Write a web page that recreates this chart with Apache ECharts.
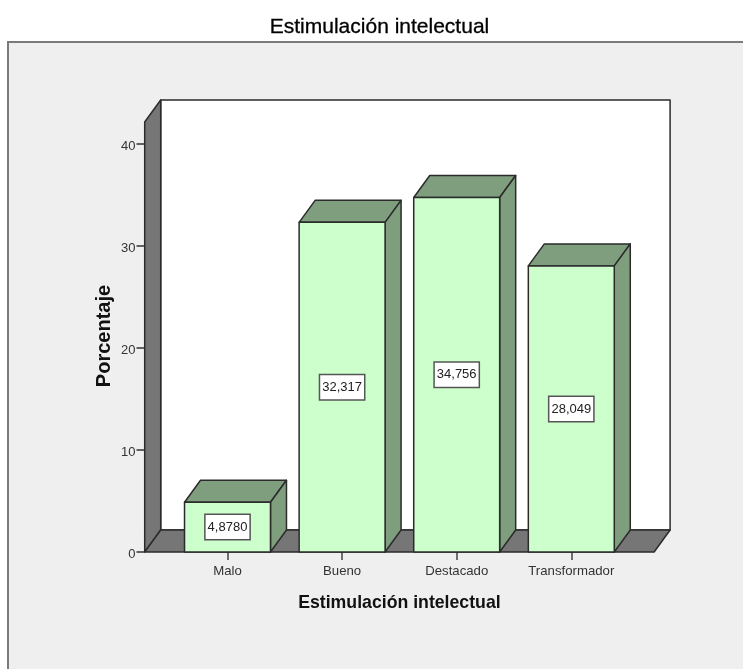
<!DOCTYPE html>
<html lang="es">
<head>
	<meta charset="UTF-8">
	<title>Estimulación intelectual</title>
	<style>
		html, body { margin: 0; padding: 0; background: #fff; }
	</style>
</head>
<body>
	<div id="main" style="width: 743px;height: 669px"></div>

	<script src="https://cdn.jsdelivr.net/npm/echarts@6/dist/echarts.min.js"></script>
	<script type="text/javascript">
	var categories = ['Malo', 'Bueno', 'Destacado', 'Transformador'];
	var percentages = [4.878, 32.317, 34.756, 28.049];
	var valueLabels = ['4,8780', '32,317', '34,756', '28,049'];
	var yTicks = [0, 10, 20, 30, 40];

	var font = '"Liberation Sans", Arial, sans-serif';
	var lineColor = '#2b2b2b';
	var depthX = 16, depthY = 22;   // desplazamiento del efecto 3D
	var wallPad = 25.5;             // el suelo sobresale de la banda de categorias

	var myChart = echarts.init(document.getElementById('main'));

	function poly(points, fill) {
		return {
			type: 'polygon',
			shape: { points: points },
			style: { fill: fill, stroke: lineColor, lineWidth: 1.5, lineJoin: 'round' }
		};
	}

	// paredes y suelo, salen del rectangulo del grid
	function renderWalls(params) {
		var c = params.coordSys;
		var l = c.x - wallPad, r = c.x + c.width + wallPad, b = c.y + c.height, t = c.y - depthY;
		return {
			type: 'group',
			children: [
				poly([[l + depthX, t - depthY], [r + depthX, t - depthY], [r + depthX, b - depthY], [l + depthX, b - depthY]], '#ffffff'),
				poly([[l, t], [l + depthX, t - depthY], [l + depthX, b - depthY], [l, b]], '#767676'),
				poly([[l, b], [l + depthX, b - depthY], [r + depthX, b - depthY], [r, b]], '#767676')
			]
		};
	}

	function renderBar(params, api) {
		var top = api.coord([api.value(0), api.value(1)]);
		var base = api.coord([api.value(0), 0]);
		var w = api.size([1, 0])[0] * 0.75;
		var x0 = top[0] - w / 2, x1 = top[0] + w / 2;
		return {
			type: 'group',
			children: [
				poly([[x0, top[1]], [x0 + depthX, top[1] - depthY], [x1 + depthX, top[1] - depthY], [x1, top[1]]], '#7e9e7e'),
				poly([[x1, top[1]], [x1 + depthX, top[1] - depthY], [x1 + depthX, base[1] - depthY], [x1, base[1]]], '#7e9e7e'),
				poly([[x0, top[1]], [x1, top[1]], [x1, base[1]], [x0, base[1]]], '#ccffcc'),
				{
					type: 'text',
					x: top[0],
					y: (top[1] + base[1]) / 2,
					style: {
						text: valueLabels[params.dataIndex],
						font: '13px ' + font,
						fill: '#222',
						align: 'center',
						verticalAlign: 'middle',
						backgroundColor: '#fff',
						borderColor: '#555',
						borderWidth: 1.5,
						padding: [6, 2, 5, 2]
					}
				}
			]
		};
	}

	var option = {
		animation: false,
		backgroundColor: '#ffffff',
		title: {
			text: 'Estimulación intelectual',
			left: 374.5,
			top: 12,
			textAlign: 'center',
			textStyle: { fontFamily: font, fontSize: 21, fontWeight: 'normal', color: '#000', textBorderColor: '#000', textBorderWidth: 0.3 }
		},
		graphic: [{
			type: 'rect',
			z: -10,
			shape: { x: 8, y: 42, width: 760, height: 660 },
			style: { fill: '#efefef', stroke: '#7a7a7a', lineWidth: 2 }
		}],
		grid: { left: 170.2, top: 144, width: 458.4, height: 408 },
		xAxis: {
			type: 'category',
			data: categories,
			name: 'Estimulación intelectual',
			nameLocation: 'middle',
			nameGap: 42,
			nameTextStyle: { fontFamily: font, fontSize: 17.7, fontWeight: 'bold', color: '#111' },
			axisLine: { show: false },
			axisTick: { show: true, alignWithLabel: true, length: 8, lineStyle: { color: '#444', width: 1.5 } },
			axisLabel: { fontFamily: font, fontSize: 13.2, color: '#333', margin: 13 }
		},
		yAxis: {
			type: 'value',
			min: 0,
			max: 40,
			interval: 10,
			offset: 25.7,
			name: 'Porcentaje',
			nameLocation: 'middle',
			nameGap: 30,
			nameMoveOverlap: false,
			nameTextStyle: { fontFamily: font, fontSize: 20, fontWeight: 'bold', color: '#111', padding: [0, 0, 0, 24] },
			axisLine: { show: false },
			axisTick: { show: true, length: 8, lineStyle: { color: '#333', width: 1.5 } },
			axisLabel: {
				fontFamily: font, fontSize: 13, color: '#333', margin: 9, verticalAlign: 'top', lineHeight: 4,
				formatter: function (v) { return yTicks.indexOf(v) >= 0 ? String(v) : ''; }
			},
			splitLine: { show: false }
		},
		series: [
			{ type: 'custom', name: 'paredes', z: 1, silent: true, renderItem: renderWalls, data: [0] },
			{
				type: 'custom',
				name: 'Porcentaje',
				z: 2,
				renderItem: renderBar,
				encode: { x: 0, y: 1 },
				data: categories.map(function (c, i) { return [i, percentages[i]]; })
			}
		]
	};
	myChart.setOption(option);
	</script>
</body>
</html>
